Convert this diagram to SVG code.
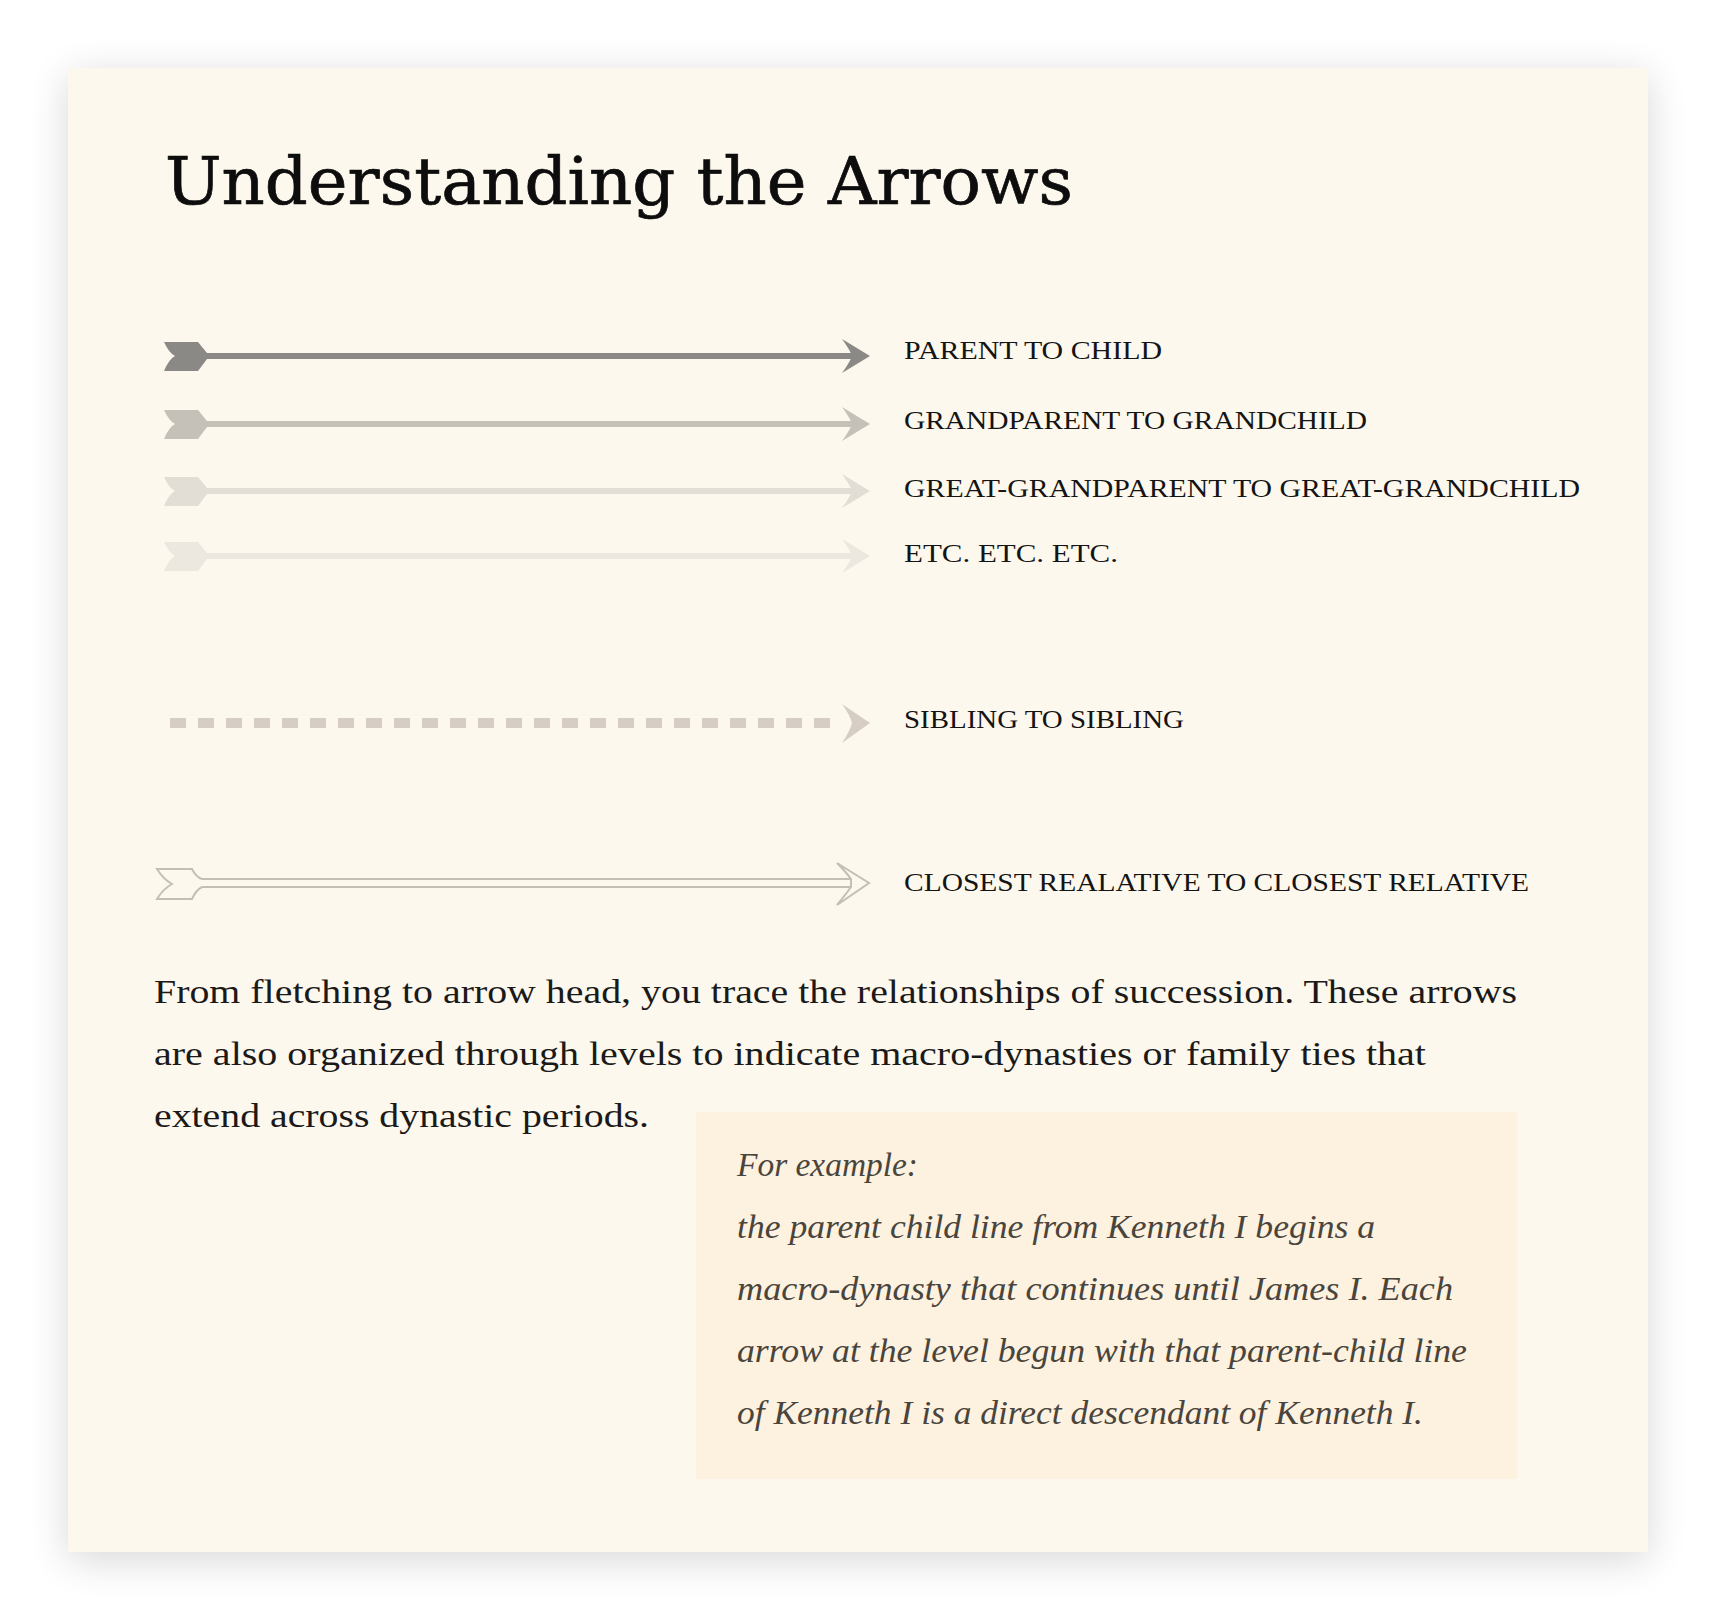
<svg xmlns="http://www.w3.org/2000/svg" width="1717" height="1621" viewBox="0 0 1717 1621">
  <defs>
    <filter id="panelShadow" x="-10%" y="-10%" width="120%" height="120%">
      <feGaussianBlur in="SourceAlpha" stdDeviation="20"/>
      <feOffset dx="0" dy="8" result="blur"/>
      <feComponentTransfer><feFuncA type="linear" slope="0.16"/></feComponentTransfer>
      <feMerge><feMergeNode/><feMergeNode in="SourceGraphic"/></feMerge>
    </filter>
    <!-- solid fletching and head, drawn at the origin and moved per row -->
    <path id="fletch" d="M0,-14 L34,-14 L43,-3 L43,3 L34,15 L0,15 Q5,3 11,0 Q5,-3 0,-14 Z"/>
    <path id="head" d="M-28,-17 L0,0 L-28,17 Q-20,6 -18,0 Q-20,-6 -28,-17 Z"/>
  </defs>
  <style>
    .title { font-family: "DejaVu Serif", "Liberation Serif", serif; font-size: 66px; fill: #0d0d0d; stroke: #0d0d0d; stroke-width: 0.7px; }
    .label { font-family: "Liberation Serif", "Times New Roman", serif; font-size: 26px; fill: #141414; }
    .body { font-family: "Liberation Serif", "Times New Roman", serif; font-size: 33px; fill: #1b1a18; }
    .note { font-family: "Liberation Serif", "Times New Roman", serif; font-style: italic; font-size: 33px; fill: #4a453c; }
    .shaft { stroke-width: 6; fill: none; }
  </style>

  <rect x="0" y="0" width="1717" height="1621" fill="#ffffff"/>

  <!-- card -->
  <g id="card">
    <rect x="68" y="68" width="1580" height="1484" fill="#fdf8ee" filter="url(#panelShadow)"/>
  </g>

  <g id="title">
    <text class="title" x="165" y="204" textLength="908" lengthAdjust="spacingAndGlyphs">Understanding the Arrows</text>
  </g>

  <!-- legend arrows -->
  <g id="connectors">
    <g id="arrow-parent" fill="#8b8985" stroke="#8b8985">
      <line class="shaft" x1="205" y1="356" x2="852" y2="356"/>
      <use href="#fletch" x="164" y="356" stroke="none"/>
      <use href="#head" x="870" y="356" stroke="none"/>
    </g>
    <g id="arrow-grandparent" fill="#c5c1b9" stroke="#c5c1b9">
      <line class="shaft" x1="205" y1="424" x2="852" y2="424"/>
      <use href="#fletch" x="164" y="424" stroke="none"/>
      <use href="#head" x="870" y="424" stroke="none"/>
    </g>
    <g id="arrow-great" fill="#e3ded5" stroke="#e3ded5">
      <line class="shaft" x1="205" y1="491" x2="852" y2="491"/>
      <use href="#fletch" x="164" y="491" stroke="none"/>
      <use href="#head" x="870" y="491" stroke="none"/>
    </g>
    <g id="arrow-etc" fill="#ece8df" stroke="#ece8df">
      <line class="shaft" x1="205" y1="556" x2="852" y2="556"/>
      <use href="#fletch" x="164" y="556" stroke="none"/>
      <use href="#head" x="870" y="556" stroke="none"/>
    </g>
    <g id="arrow-sibling">
      <line x1="170" y1="723" x2="832" y2="723" stroke="#d6cec4" stroke-width="10" stroke-dasharray="16 12"/>
      <path d="M842,704 L870,723 L842,743 Q850,731 852,723 Q850,715 842,704 Z" fill="#d6cec4"/>
    </g>
    <g id="arrow-closest" fill="#fdf8ee" stroke="#c3bfb7" stroke-width="2">
      <path d="M851,879 L202,879 Q196,877 192,869 L157,869 Q163,879 172,884 Q163,889 157,899 L192,899 Q196,890 202,887 L851,887"/>
      <path d="M837,863 L869,883 L837,905 Q846,894 851,887 L851,879 Q846,872 837,863 Z"/>
    </g>
  </g>

  <!-- legend labels -->
  <g id="labels">
    <text class="label" x="904" y="359" textLength="258" lengthAdjust="spacingAndGlyphs">PARENT TO CHILD</text>
    <text class="label" x="904" y="429" textLength="463" lengthAdjust="spacingAndGlyphs">GRANDPARENT TO GRANDCHILD</text>
    <text class="label" x="904" y="497" textLength="676" lengthAdjust="spacingAndGlyphs">GREAT-GRANDPARENT TO GREAT-GRANDCHILD</text>
    <text class="label" x="904" y="562" textLength="214" lengthAdjust="spacingAndGlyphs">ETC. ETC. ETC.</text>
    <text class="label" x="904" y="728" textLength="280" lengthAdjust="spacingAndGlyphs">SIBLING TO SIBLING</text>
    <text class="label" x="904" y="891" textLength="625" lengthAdjust="spacingAndGlyphs">CLOSEST REALATIVE TO CLOSEST RELATIVE</text>
  </g>

  <!-- explanation -->
  <g id="explanation">
    <text class="body" x="154" y="1003" textLength="1363" lengthAdjust="spacingAndGlyphs">From fletching to arrow head, you trace the relationships of succession. These arrows</text>
    <text class="body" x="154" y="1065" textLength="1272" lengthAdjust="spacingAndGlyphs">are also organized through levels to indicate macro-dynasties or family ties that</text>
    <text class="body" x="154" y="1127" textLength="495" lengthAdjust="spacingAndGlyphs">extend across dynastic periods.</text>
  </g>

  <!-- example box -->
  <g id="example">
    <rect x="696" y="1112" width="821" height="367" fill="#fdf1e0"/>
    <text class="note" x="737" y="1176" textLength="181" lengthAdjust="spacingAndGlyphs">For example:</text>
    <text class="note" x="737" y="1238" textLength="638" lengthAdjust="spacingAndGlyphs">the parent child line from Kenneth I begins a</text>
    <text class="note" x="737" y="1300" textLength="716" lengthAdjust="spacingAndGlyphs">macro-dynasty that continues until James I. Each</text>
    <text class="note" x="737" y="1362" textLength="730" lengthAdjust="spacingAndGlyphs">arrow at the level begun with that parent-child line</text>
    <text class="note" x="737" y="1424" textLength="686" lengthAdjust="spacingAndGlyphs">of Kenneth I is a direct descendant of Kenneth I.</text>
  </g>
</svg>
